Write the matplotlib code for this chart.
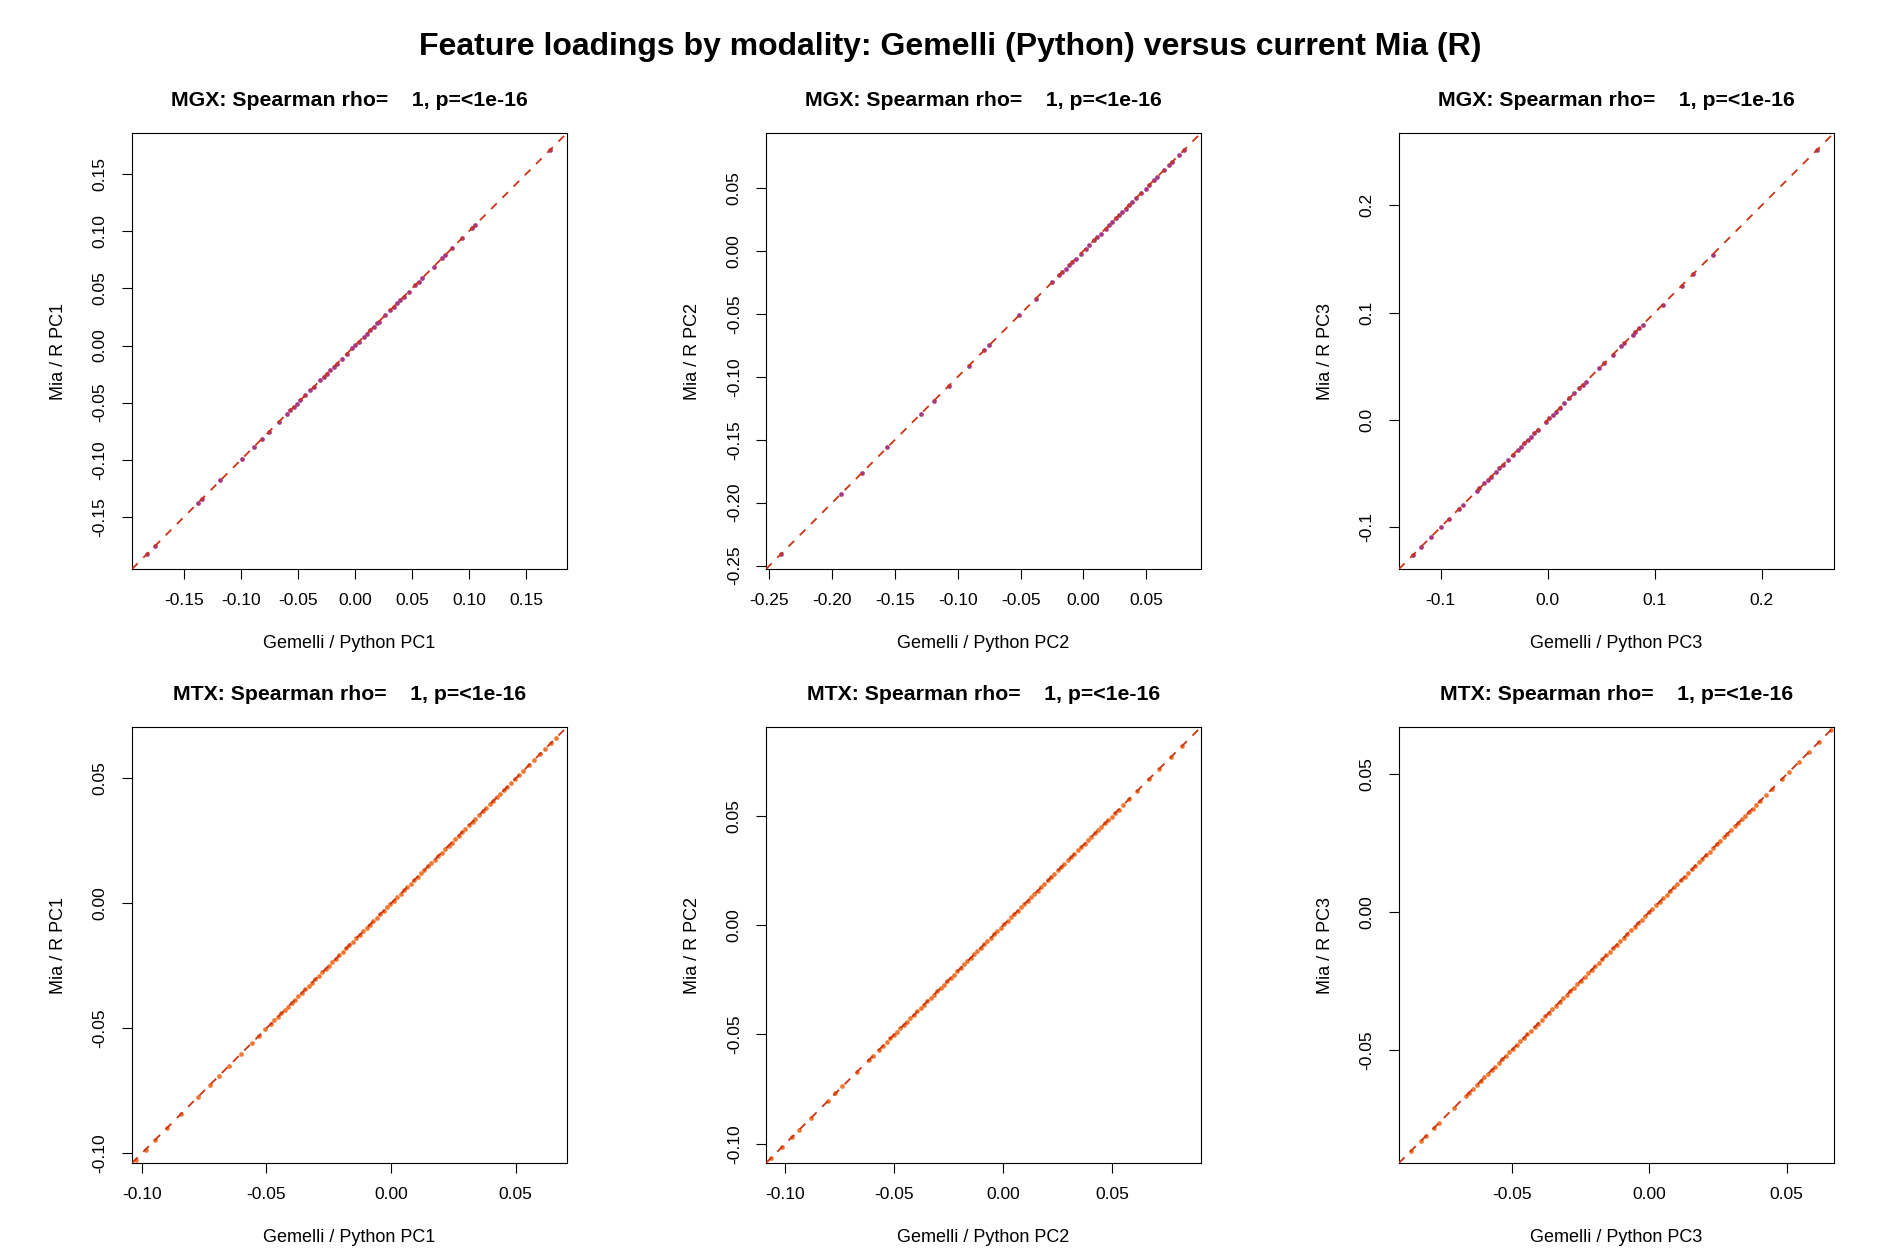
import matplotlib
matplotlib.use("Agg")
import matplotlib.pyplot as plt
import numpy as np

plt.rcParams["font.family"] = ["Liberation Sans", "DejaVu Sans"]

MAIN_TITLE = "Feature loadings by modality: Gemelli (Python) versus current Mia (R)"
MODALITIES = ["MGX", "MTX"]
COMPONENTS = ["PC1", "PC2", "PC3"]
RHO_TEXT = ["    1"] * 6
P_TEXT = ["<1e-16"] * 6

# feature loadings (Gemelli / Python); Mia / R values sit on the identity
mgx_pc1 = [0.1713, 0.1056, 0.1026, 0.0939, 0.0851, 0.0792, 0.0763, 0.0690, 0.0588, 0.0558,
           0.0529, 0.0471, 0.0427, 0.0398, 0.0368, 0.0339, 0.0310, 0.0266, 0.0208, 0.0193,
           0.0164, 0.0135, 0.0105, 0.0076, 0.0032, 0.0003, -0.0026, -0.0070, -0.0114, -0.0158,
           -0.0187, -0.0216, -0.0246, -0.0275, -0.0304, -0.0363, -0.0392, -0.0436, -0.0480,
           -0.0509, -0.0538, -0.0567, -0.0596, -0.0670, -0.0757, -0.0816, -0.0889, -0.0991,
           -0.1181, -0.1342, -0.1377, -0.1751, -0.1825]
mgx_pc2 = [0.0802, 0.0762, 0.0709, 0.0682, 0.0642, 0.0589, 0.0563, 0.0523, 0.0496, 0.0457,
           0.0417, 0.0390, 0.0364, 0.0337, 0.0311, 0.0284, 0.0258, 0.0231, 0.0204, 0.0178,
           0.0138, 0.0111, 0.0085, 0.0045, 0.0019, -0.0021, -0.0061, -0.0088, -0.0114, -0.0141,
           -0.0167, -0.0194, -0.0247, -0.0380, -0.0512, -0.0751, -0.0791, -0.0911, -0.1070,
           -0.1189, -0.1295, -0.1561, -0.1765, -0.1933, -0.2410]
mgx_pc3 = [0.2512, 0.1541, 0.1360, 0.1251, 0.1074, 0.0887, 0.0856, 0.0819, 0.0794, 0.0716,
           0.0685, 0.0607, 0.0529, 0.0482, 0.0358, 0.0327, 0.0296, 0.0249, 0.0202, 0.0156,
           0.0115, 0.0078, 0.0047, 0.0016, -0.0016, -0.0093, -0.0124, -0.0156, -0.0187, -0.0218,
           -0.0249, -0.0280, -0.0327, -0.0373, -0.0420, -0.0451, -0.0482, -0.0529, -0.0560,
           -0.0591, -0.0638, -0.0663, -0.0794, -0.0825, -0.0918, -0.0996, -0.1089, -0.1183,
           -0.1254]
mtx_pc1 = [0.0662, 0.0641, 0.0618, 0.0597, 0.0574, 0.0553, 0.0531, 0.0514, 0.0497, 0.0481,
           0.0466, 0.0452, 0.0437, 0.0424, 0.0409, 0.0396, 0.0381, 0.0368, 0.0354, 0.0339,
           0.0327, 0.0312, 0.0298, 0.0286, 0.0271, 0.0258, 0.0243, 0.0231, 0.0216, 0.0203,
           0.0189, 0.0175, 0.0162, 0.0148, 0.0134, 0.0121, 0.0107, 0.0094, 0.0079, 0.0066,
           0.0052, 0.0039, 0.0025, 0.0011, -0.0003, -0.0016, -0.0030, -0.0044, -0.0057, -0.0071,
           -0.0085, -0.0098, -0.0112, -0.0126, -0.0139, -0.0153, -0.0167, -0.0180, -0.0194,
           -0.0208, -0.0221, -0.0235, -0.0249, -0.0262, -0.0276, -0.0290, -0.0303, -0.0317,
           -0.0331, -0.0344, -0.0358, -0.0372, -0.0385, -0.0399, -0.0413, -0.0426, -0.0440,
           -0.0454, -0.0468, -0.0483, -0.0504, -0.0531, -0.0559, -0.0601, -0.0650, -0.0690,
           -0.0728, -0.0775, -0.0842, -0.0898, -0.0945, -0.0985, -0.1025]
mtx_pc2 = [0.0820, 0.0767, 0.0713, 0.0667, 0.0614, 0.0576, 0.0550, 0.0528, 0.0511, 0.0496,
           0.0480, 0.0465, 0.0449, 0.0434, 0.0419, 0.0403, 0.0388, 0.0372, 0.0357, 0.0342,
           0.0326, 0.0311, 0.0296, 0.0280, 0.0265, 0.0250, 0.0234, 0.0219, 0.0204, 0.0188,
           0.0173, 0.0158, 0.0142, 0.0127, 0.0111, 0.0096, 0.0081, 0.0065, 0.0050, 0.0035,
           0.0019, 0.0004, -0.0011, -0.0027, -0.0042, -0.0057, -0.0073, -0.0088, -0.0104,
           -0.0119, -0.0134, -0.0150, -0.0165, -0.0180, -0.0196, -0.0211, -0.0226, -0.0242,
           -0.0257, -0.0273, -0.0288, -0.0303, -0.0319, -0.0334, -0.0349, -0.0365, -0.0380,
           -0.0395, -0.0411, -0.0426, -0.0442, -0.0457, -0.0472, -0.0488, -0.0503, -0.0518,
           -0.0534, -0.0551, -0.0572, -0.0597, -0.0616, -0.0670, -0.0738, -0.0770, -0.0806,
           -0.0880, -0.0936, -0.0967, -0.1013, -0.1066]
mtx_pc3 = [0.0660, 0.0618, 0.0582, 0.0545, 0.0509, 0.0485, 0.0448, 0.0424, 0.0402, 0.0389,
           0.0376, 0.0363, 0.0350, 0.0337, 0.0324, 0.0311, 0.0298, 0.0285, 0.0272, 0.0259,
           0.0246, 0.0233, 0.0220, 0.0207, 0.0194, 0.0181, 0.0168, 0.0155, 0.0142, 0.0129,
           0.0116, 0.0103, 0.0090, 0.0077, 0.0064, 0.0051, 0.0038, 0.0025, 0.0012, -0.0001,
           -0.0014, -0.0027, -0.0040, -0.0053, -0.0066, -0.0079, -0.0092, -0.0105, -0.0118,
           -0.0131, -0.0144, -0.0157, -0.0170, -0.0183, -0.0196, -0.0209, -0.0222, -0.0235,
           -0.0248, -0.0261, -0.0274, -0.0287, -0.0300, -0.0313, -0.0326, -0.0339, -0.0352,
           -0.0365, -0.0378, -0.0391, -0.0404, -0.0417, -0.0430, -0.0443, -0.0456, -0.0469,
           -0.0482, -0.0495, -0.0508, -0.0521, -0.0534, -0.0547, -0.0560, -0.0573, -0.0586,
           -0.0599, -0.0612, -0.0626, -0.0641, -0.0655, -0.0667, -0.0709, -0.0764, -0.0782,
           -0.0812, -0.0830, -0.0867]

gemelli = [mgx_pc1, mgx_pc2, mgx_pc3, mtx_pc1, mtx_pc2, mtx_pc3]
mia = [mgx_pc1, mgx_pc2, mgx_pc3, mtx_pc1, mtx_pc2, mtx_pc3]

# shared axis range for each panel (x and y)
panel_limits = [(-0.1956, 0.1860), (-0.2527, 0.0937), (-0.1388, 0.2673),
                (-0.1039, 0.0706), (-0.1088, 0.0906), (-0.0910, 0.0672)]
panel_ticks = [[-0.15, -0.10, -0.05, 0.00, 0.05, 0.10, 0.15],
               [-0.25, -0.20, -0.15, -0.10, -0.05, 0.00, 0.05],
               [-0.1, 0.0, 0.1, 0.2],
               [-0.10, -0.05, 0.00, 0.05],
               [-0.10, -0.05, 0.00, 0.05],
               [-0.05, 0.00, 0.05]]
tick_labels = [["-0.15", "-0.10", "-0.05", "0.00", "0.05", "0.10", "0.15"],
               ["-0.25", "-0.20", "-0.15", "-0.10", "-0.05", "0.00", "0.05"],
               ["-0.1", "0.0", "0.1", "0.2"],
               ["-0.10", "-0.05", "0.00", "0.05"],
               ["-0.10", "-0.05", "0.00", "0.05"],
               ["-0.05", "0.00", "0.05"]]
point_colors = {"MGX": "#A8387F", "MTX": "#F07832"}
LINE_COLOR = "#CC3311"

fig = plt.figure(figsize=(19, 12.5), dpi=100)
fig.text(0.5, 0.962, MAIN_TITLE, ha="center", va="center",
         fontsize=23, fontweight="bold")

col_left = [0.0695, 0.4032, 0.7363]
row_bottom = [0.5448, 0.0696]
ax_w, ax_h = 0.2289, 0.3488

for i in range(6):
    r, c = divmod(i, 3)
    modality = MODALITIES[r]
    comp = COMPONENTS[c]
    ax = fig.add_axes([col_left[c], row_bottom[r], ax_w, ax_h])
    x = np.array(gemelli[i])
    y = np.array(mia[i])
    ax.plot(x, y, "o", ms=3.4, mec="none", color=point_colors[modality], zorder=2)
    ax.axline((0, 0), slope=1, color=LINE_COLOR, lw=1.3,
              linestyle=(0, (4.4, 4.4)), zorder=3)
    lo, hi = panel_limits[i]
    ax.set_xlim(lo, hi)
    ax.set_ylim(lo, hi)
    ax.set_xticks(panel_ticks[i])
    ax.set_xticklabels(tick_labels[i])
    ax.set_yticks(panel_ticks[i])
    ax.set_yticklabels(tick_labels[i], rotation=90, va="center")
    ax.tick_params(direction="out", length=7, width=0.8, labelsize=12.5, pad=10.5)
    for sp in ax.spines.values():
        sp.set_linewidth(0.8)
    ax.set_xlabel(f"Gemelli / Python {comp}", fontsize=13, va="center")
    ax.xaxis.set_label_coords(0.5, -0.172)
    ax.set_ylabel(f"Mia / R {comp}", fontsize=13, va="center")
    ax.yaxis.set_label_coords(-0.169, 0.5)
    ax.text(0.5, 1.074, f"{modality}: Spearman rho={RHO_TEXT[i]}, p={P_TEXT[i]}",
            transform=ax.transAxes, ha="center", va="center",
            fontsize=15.3, fontweight="bold")

fig.savefig("out.png", dpi=100)
